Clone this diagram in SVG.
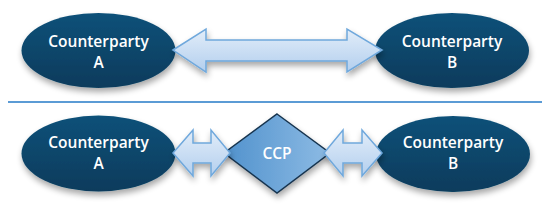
<svg xmlns="http://www.w3.org/2000/svg" width="550" height="217" viewBox="0 0 550 217">
<defs>
<linearGradient id="gEll" x1="0" y1="0" x2="0" y2="1">
<stop offset="0" stop-color="#0d5179"/>
<stop offset="1" stop-color="#073b5c"/>
</linearGradient>
<linearGradient id="gArr" x1="0" y1="0" x2="0" y2="1">
<stop offset="0" stop-color="#e2edf9"/>
<stop offset="1" stop-color="#b3cfee"/>
</linearGradient>
<linearGradient id="gDia" x1="0" y1="0" x2="1" y2="0">
<stop offset="0" stop-color="#5192cd"/>
<stop offset="1" stop-color="#8dbbe4"/>
</linearGradient>
<filter id="sh" x="-20%" y="-20%" width="140%" height="160%">
<feGaussianBlur in="SourceAlpha" stdDeviation="3"/>
<feOffset dx="1" dy="4" result="b"/>
<feComponentTransfer><feFuncA type="linear" slope="0.35"/></feComponentTransfer>
<feMerge><feMergeNode/><feMergeNode in="SourceGraphic"/></feMerge>
</filter>
</defs>
<style>
.ell{fill:url(#gEll);filter:url(#sh)}
.arr{fill:url(#gArr);stroke:#6fa8dc;stroke-width:1.5;stroke-linejoin:miter;filter:url(#sh)}
.dia{fill:url(#gDia);stroke:#17344f;stroke-width:1.5;filter:url(#sh)}
.t{font-family:"Open Sans","Liberation Sans",sans-serif;font-weight:600;font-size:15.5px;fill:#ffffff;text-anchor:middle}
.sep{stroke:#5b9bd5;stroke-width:2}
</style>
<line class="sep" x1="8" y1="102" x2="542" y2="102"/>
<g id="cpA-top">
<ellipse class="ell" cx="98.5" cy="50.5" rx="77" ry="37.5"/>
<text class="t" x="98.5" y="47">Counterparty</text>
<text class="t" x="98.5" y="68">A</text>
</g>
<g id="cpB-top">
<ellipse class="ell" cx="452" cy="50.5" rx="77" ry="37.5"/>
<text class="t" x="452" y="47">Counterparty</text>
<text class="t" x="452" y="68">B</text>
</g>
<g id="ccp">
<polygon class="dia" points="277,114 330,153 277,193 224,153"/>
<text class="t" x="277" y="159">CCP</text>
</g>
<g id="cpA-bottom">
<ellipse class="ell" cx="98.5" cy="153.5" rx="77" ry="38"/>
<text class="t" x="98.5" y="147.5">Counterparty</text>
<text class="t" x="98.5" y="168.5">A</text>
</g>
<g id="cpB-bottom">
<ellipse class="ell" cx="453" cy="154" rx="77" ry="38"/>
<text class="t" x="453" y="147.5">Counterparty</text>
<text class="t" x="453" y="168.5">B</text>
</g>
<g id="connectors">
<polygon class="arr" points="173,50 206,29 206,40 347,40 347,29 382,50 347,72 347,61 206,61 206,72"/>
<polygon class="arr" points="173,153 193,130 193,143 211,143 211,130 230,153 211,176 211,163 193,163 193,176"/>
<polygon class="arr" points="324,153 343,130 343,143 362,143 362,130 382,153 362,176 362,163 343,163 343,176"/>
</g>
</svg>
